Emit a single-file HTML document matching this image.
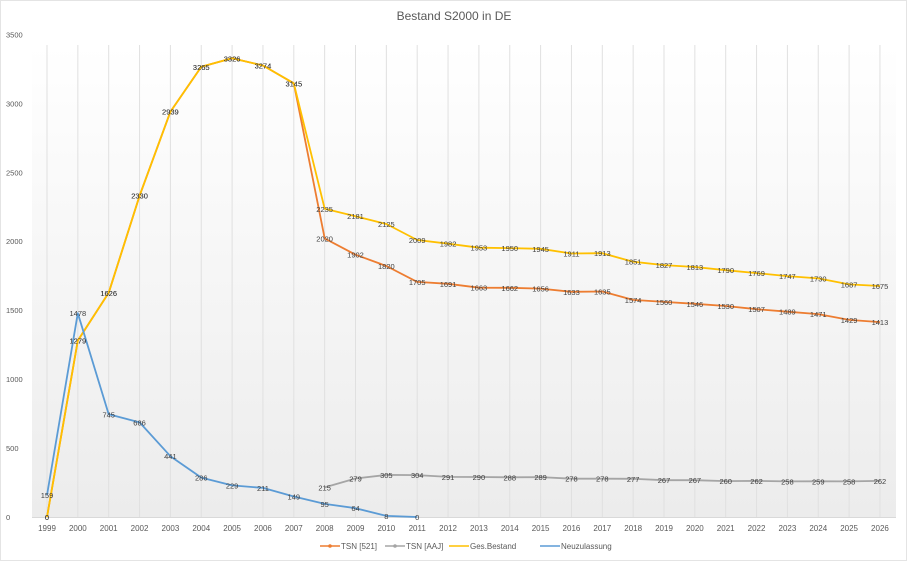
<!DOCTYPE html>
<html><head><meta charset="utf-8"><style>
html,body{margin:0;padding:0;background:#fff;}
svg{display:block;font-family:"Liberation Sans",sans-serif;}
</style></head><body>
<svg id="c" width="908" height="562" xmlns="http://www.w3.org/2000/svg">
<defs><linearGradient id="g" x1="0" y1="0" x2="0" y2="1">
<stop offset="0" stop-color="#ffffff"/><stop offset="1" stop-color="#ececec"/></linearGradient></defs>
<rect x="0.5" y="0.5" width="906" height="560" fill="#fff" stroke="#e4e4e4"/>
<rect x="32" y="45" width="864" height="472" fill="url(#g)"/>
<text x="454" y="20" text-anchor="middle" font-size="12" fill="#595959">Bestand S2000 in DE</text>
<g id="grid"></g><g id="series"></g><g id="labels"></g>
<g font-size="8" fill="#595959">
<line x1="320" y1="546" x2="340" y2="546" stroke="#ED7D31" stroke-width="1.5"/><circle cx="330" cy="546" r="1.8" fill="#ED7D31"/>
<text x="341" y="549">TSN [521]</text>
<line x1="385" y1="546" x2="405" y2="546" stroke="#A5A5A5" stroke-width="1.5"/><circle cx="395" cy="546" r="1.8" fill="#A5A5A5"/>
<text x="406" y="549">TSN [AAJ]</text>
<line x1="449" y1="546" x2="469" y2="546" stroke="#FFC000" stroke-width="1.5"/>
<text x="470" y="549">Ges.Bestand</text>
<line x1="540" y1="546" x2="560" y2="546" stroke="#5B9BD5" stroke-width="1.5"/>
<text x="561" y="549">Neuzulassung</text>
</g>
</svg>
<script>
var NS="http://www.w3.org/2000/svg";
function X(i){return 47+i*30.85;}
function Y(v){return 517-v*0.1379;}
function el(p,t,a,txt){var e=document.createElementNS(NS,t);for(var k in a)e.setAttribute(k,a[k]);if(txt!==undefined)e.textContent=txt;p.appendChild(e);return e;}
var grid=document.getElementById('grid'),ser=document.getElementById('series'),lab=document.getElementById('labels');
for(var i=0;i<28;i++){el(grid,'line',{x1:X(i),y1:45,x2:X(i),y2:517,stroke:'#e0e0e0','stroke-width':1});
el(grid,'text',{x:X(i),y:531,'text-anchor':'middle','font-size':8,fill:'#595959'},1999+i);}
el(grid,'line',{x1:32,y1:517.5,x2:896,y2:517.5,stroke:'#d9d9d9'});
for(var v=0;v<=3500;v+=500)el(grid,'text',{x:6,y:Y(v)+3,'font-size':7.5,fill:'#595959'},v);
var yel=[0,1279,1626,2330,2939,3265,3326,3274,3145,2235,2181,2125,2009,1982,1953,1950,1945,1911,1913,1851,1827,1813,1790,1769,1747,1730,1687,1675];
var ora=[0,1279,1626,2330,2939,3265,3326,3274,3145,2020,1902,1820,1705,1691,1663,1662,1656,1633,1635,1574,1560,1546,1530,1507,1489,1471,1429,1413];
var gry=[];gry[9]=215;var g2=[279,305,304,291,290,288,289,278,278,277,267,267,260,262,258,259,258,262];for(var k=0;k<g2.length;k++)gry[10+k]=g2[k];
var blu=[159,1478,745,686,441,286,229,211,149,95,64,8,0];
function line(d,c,start){var p=[];for(var i=0;i<d.length;i++)if(d[i]!==undefined)p.push(X(i).toFixed(1)+','+Y(d[i]).toFixed(1));
el(ser,'polyline',{points:p.join(' '),fill:'none',stroke:c,'stroke-width':1.8,'stroke-linejoin':'round'});}
function labels(d,from){for(var i=from;i<d.length;i++)if(d[i]!==undefined)el(lab,'text',{x:X(i),y:Y(d[i])+3,'text-anchor':'middle','font-size':7.5,fill:'#404040'},d[i]);}
line(ora,'#ED7D31');line(gry,'#A5A5A5');line(yel,'#FFC000');line(blu,'#5B9BD5');
labels(ora,0);labels(yel,0);labels(gry,0);labels(blu,0);
</script>
</body></html>
